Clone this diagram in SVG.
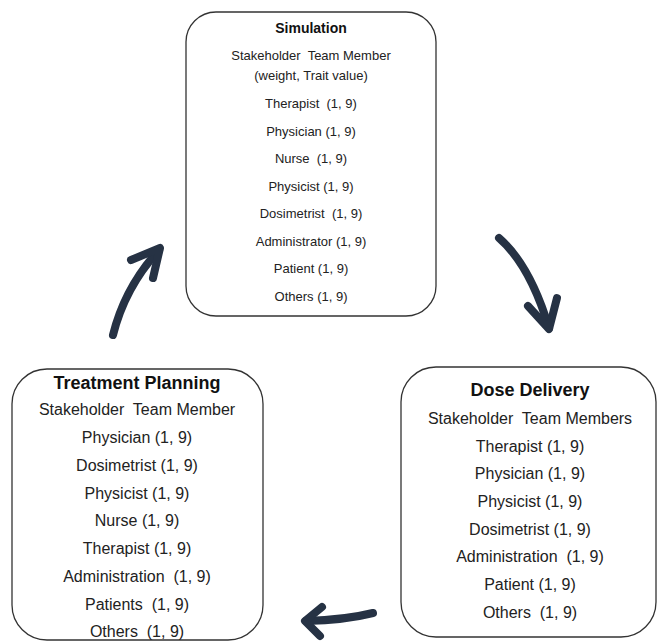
<svg xmlns="http://www.w3.org/2000/svg" width="658" height="644" viewBox="0 0 658 644">
<style>
.box{fill:#fff;stroke:#333;stroke-width:1.3}
.t{font-family:"Liberation Sans",Arial,sans-serif;font-weight:bold;fill:#111;text-anchor:middle}
.b{font-family:"Liberation Sans",Arial,sans-serif;fill:#222;text-anchor:middle;white-space:pre}
.s{font-size:13px}
.l{font-size:16px}
.arr{fill:none;stroke:#263244;stroke-width:8;stroke-linecap:round;stroke-linejoin:round}
</style>
<rect width="658" height="644" fill="#fff"/>
<g id="simulation">
<rect class="box" x="186" y="12" width="250" height="304" rx="30"/>
<text class="t" x="311" y="33" font-size="14">Simulation</text>
<text class="b s" x="311" y="60" xml:space="preserve">Stakeholder  Team Member</text>
<text class="b s" x="311" y="80">(weight, Trait value)</text>
<text class="b s" x="311" y="108" xml:space="preserve">Therapist  (1, 9)</text>
<text class="b s" x="311" y="136">Physician (1, 9)</text>
<text class="b s" x="311" y="163" xml:space="preserve">Nurse  (1, 9)</text>
<text class="b s" x="311" y="191">Physicist (1, 9)</text>
<text class="b s" x="311" y="218" xml:space="preserve">Dosimetrist  (1, 9)</text>
<text class="b s" x="311" y="246">Administrator (1, 9)</text>
<text class="b s" x="311" y="273">Patient (1, 9)</text>
<text class="b s" x="311" y="301">Others (1, 9)</text>
</g>
<g id="treatment-planning">
<rect class="box" x="12" y="369" width="251" height="271" rx="35"/>
<text class="t" x="137" y="389" font-size="18">Treatment Planning</text>
<text class="b l" x="137" y="415" xml:space="preserve">Stakeholder  Team Member</text>
<text class="b l" x="137" y="443">Physician (1, 9)</text>
<text class="b l" x="137" y="471">Dosimetrist (1, 9)</text>
<text class="b l" x="137" y="499">Physicist (1, 9)</text>
<text class="b l" x="137" y="526">Nurse (1, 9)</text>
<text class="b l" x="137" y="554">Therapist (1, 9)</text>
<text class="b l" x="137" y="582" xml:space="preserve">Administration  (1, 9)</text>
<text class="b l" x="137" y="610" xml:space="preserve">Patients  (1, 9)</text>
<text class="b l" x="137" y="637" xml:space="preserve">Others  (1, 9)</text>
</g>
<g id="dose-delivery">
<rect class="box" x="401" y="367" width="255" height="270" rx="35"/>
<text class="t" x="530" y="396" font-size="18">Dose Delivery</text>
<text class="b l" x="530" y="424" xml:space="preserve">Stakeholder  Team Members</text>
<text class="b l" x="530" y="452">Therapist (1, 9)</text>
<text class="b l" x="530" y="479">Physician (1, 9)</text>
<text class="b l" x="530" y="507">Physicist (1, 9)</text>
<text class="b l" x="530" y="535">Dosimetrist (1, 9)</text>
<text class="b l" x="530" y="562" xml:space="preserve">Administration  (1, 9)</text>
<text class="b l" x="530" y="590">Patient (1, 9)</text>
<text class="b l" x="530" y="618" xml:space="preserve">Others  (1, 9)</text>
</g>
<g id="connectors">
<path class="arr" d="M113,335 Q125,287 159,250"/>
<path class="arr" d="M131,260 L160,248 L153,278"/>
<path class="arr" d="M499,238 Q530,265 549,328"/>
<path class="arr" d="M528,306 L549,329 L557,298"/>
<path class="arr" d="M373,613 Q345,620 306,621"/>
<path class="arr" d="M322,607 L305,621 L320,636"/>
</g>
</svg>
